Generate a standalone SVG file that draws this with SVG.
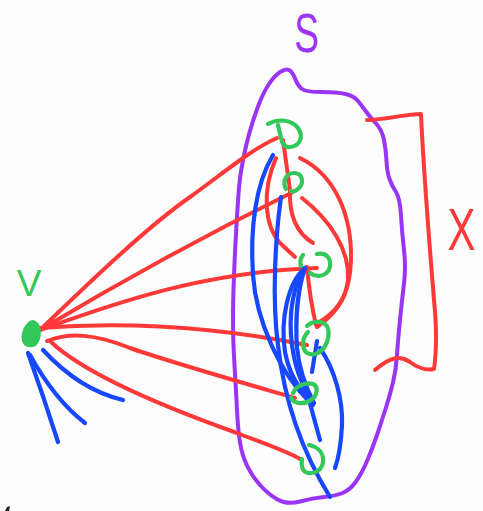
<svg xmlns="http://www.w3.org/2000/svg" width="483" height="511" viewBox="0 0 483 511">
<style>
.r{fill:none;stroke:#ff3838;stroke-width:4;stroke-linecap:round;stroke-linejoin:round}
.b{fill:none;stroke:#1747ff;stroke-width:4.2;stroke-linecap:round;stroke-linejoin:round}
.g{fill:none;stroke:#34c759;stroke-width:4.2;stroke-linecap:round;stroke-linejoin:round}
.p{fill:none;stroke:#9b35f5;stroke-width:4;stroke-linecap:round;stroke-linejoin:round}
.lbl{font-family:"Liberation Sans",Arial,sans-serif;text-anchor:middle}
</style>
<rect width="483" height="511" fill="#fdfdfd"/>
<g id="S">
<path class="p" d="M281,71.5 Q287,68 290,70.5 Q293,73 295.5,79.5 Q298,86 302,89 Q306,92 321.5,92 Q337,92 345.5,94 Q354,96 358,101 Q362,106 366,111.5 Q370,117 376,123.5 Q382,130 384,140 Q386,150 386.5,161 Q387,172 389.5,179 Q392,186 396,192 Q400,198 401,215.5 Q402,233 404,250 Q406,267 404,283.5 Q402,300 400,320 Q398,340 397,355 Q396,370 393,382.5 Q390,395 386,407.5 Q382,420 377.5,433.5 Q373,447 367.5,460 Q362,473 356,481.5 Q350,490 342.5,493 Q335,496 324,497 Q313,498 300,501.5 Q287,505 277.5,499.5 Q268,494 260,485 Q252,476 247,465.5 Q242,455 240,442.5 Q238,430 237,410 Q236,390 234.5,365 Q233,340 233,320 Q233,300 234,275 Q235,250 236.5,225 Q238,200 239,187.5 Q240,175 243,160 Q246,145 249.5,132.5 Q253,120 258,106.5 Q263,93 269,84 Q275,75 281,71.5 Z"/>
<text class="lbl" transform="translate(306.5,52) scale(0.66,1)" font-size="56" fill="#9b35f5">S</text>
</g>
<g id="X">
<path class="r" d="M367,120 C385,120 405,114 421,114 C424,180 430,250 434,300 C437,330 436,355 434,369 C425,371 418,368 410,362 C400,355 390,357 375,370"/>
<text class="lbl" transform="translate(461.5,250) scale(0.7,1)" font-size="60" fill="#ff3838">X</text>
</g>
<g id="connectors">
<path class="r" d="M40,330 C100,272 150,225 190,197 C225,172 250,150 277,138"/>
<path class="r" d="M40,330 Q165,255 293,192"/>
<path class="r" d="M40,330 C110,305 200,272 317,268"/>
<path class="r" d="M40,328 Q170,318 307,345"/>
<path class="r" d="M47,341 C70,332 95,334 130,348 C170,362 240,382 295,398"/>
<path class="r" d="M50,341 C80,370 150,402 237,433 C260,442 285,450 302,460"/>
<path class="b" d="M43,350 Q80,390 123,400"/>
<path class="b" d="M30,355 Q55,400 85,423"/>
<path class="b" d="M28,353 Q44,398 58,442"/>
<path class="r" d="M283,140 L290,190 C289,212 295,232 313,243"/>
<path class="r" d="M276,158 C262,190 264,225 280,243 L295,257"/>
<path class="r" d="M302,198 C330,220 350,250 348,280 C346,300 335,313 318,323"/>
<path class="r" d="M300,158 C335,175 352,215 351,260 C350,295 338,312 317,327"/>
<path class="r" d="M307,267 Q310,300 316,325"/>
<path class="b" d="M273,155 C255,185 250,230 253,275 C256,320 280,375 313,405"/>
<path class="b" d="M281,197 C275,240 272,300 278,345 C283,390 298,445 330,497"/>
<path class="b" d="M305,268 C288,282 280,320 285,352 C289,372 297,386 306,395"/>
<path class="b" d="M305,268 C293,285 288,315 292,345 C295,368 302,385 310,396"/>
<path class="b" d="M305,268 C298,288 295,318 297,348 C299,368 304,384 314,403"/>
<path class="b" d="M317,341 L312,372"/>
<path class="b" d="M320,348 C335,370 343,400 342,425 C341,445 338,460 335,468"/>
<path class="b" d="M307,392 Q313,415 320,440"/>
</g>
<g id="V">
<path d="M33,321 C41,323 41,335 38,341 C35,348 26,348 23,341 C21,334 26,322 33,321 Z" fill="#34c759" stroke="#34c759" stroke-width="2"/>
<text class="lbl" x="29" y="296" font-size="37" fill="#34c759">V</text>
</g>
<g id="n1"><path class="g" d="M268,124 C278,118 292,120 298,128 C304,137 300,146 290,147 C284,148 282,143 281,138 L278,125"/></g>
<g id="n2"><path class="g" d="M286,189 C282,182 286,173 294,173 C303,173 304,183 299,188 C296,191 293,192 291,191"/></g>
<g id="n3"><path class="g" d="M317,254 C326,252 331,258 330,266 C329,275 318,279 310,273 M303,255 Q299,260 301,266"/></g>
<g id="n4"><path class="g" d="M307,326 C312,321 322,320 327,326 C331,335 327,348 318,353 C309,357 303,352 303,344 C303,339 305,335 308,332"/></g>
<g id="n5"><path class="g" d="M293,393 C296,386 305,382 313,384 C319,387 317,396 311,400 C304,405 294,404 291,398"/></g>
<g id="n6"><path class="g" d="M309,445 C318,447 324,453 323,462 C322,470 315,474 308,473 C302,472 301,465 302,459"/></g>
<path d="M5,511 L7,507 L10,506 L9,511 Z" fill="#222"/>
</svg>
